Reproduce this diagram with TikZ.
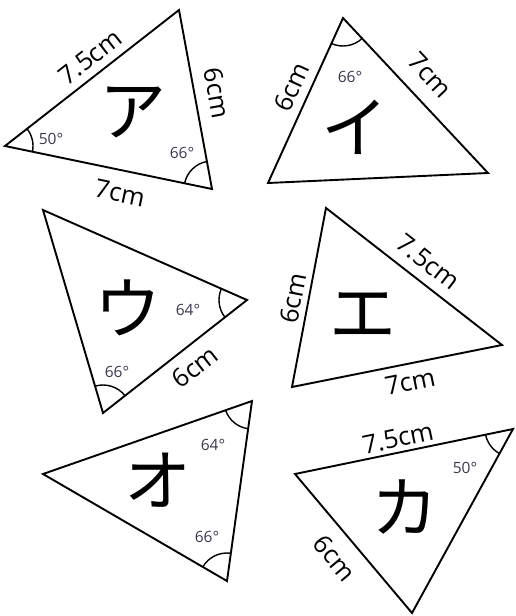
\documentclass[tikz,border=0pt]{standalone}
\usepackage{fontspec}
\setmainfont{Open Sans}
\newfontfamily\jp{Noto Sans CJK JP}
\usetikzlibrary{angles}
\definecolor{angc}{HTML}{3A3550}
\begin{document}
\begin{tikzpicture}[x=1pt,y=1pt,
 tri/.style={draw=black, line width=1.9pt, line join=miter},
 side/.style={font=\fontsize{25.5}{25.5}\selectfont, inner sep=0pt},
 ang/.style={font=\fontsize{15.5}{15.5}\selectfont, text=angc, inner sep=0pt},
 kana/.style={font=\jp\fontsize{67}{67}\selectfont, inner sep=0pt},
 arcang/.style={draw, line width=1.4pt, angle radius=28pt}]
\useasboundingbox (0,0) rectangle (515,-616);
% ア
\coordinate (aL) at (5,-146);
\coordinate (aT) at (179,-10);
\coordinate (aR) at (212,-189);
\draw[tri] (aL) -- (aT) -- (aR) -- cycle;
\pic[arcang] {angle=aR--aL--aT};
\pic[arcang] {angle=aT--aR--aL};
\node[side, rotate=38] (a1) at (90,-57) {7.5cm};
\node[side, rotate=-79.6] (a2) at (217,-93) {6cm};
\node[side, rotate=-11.7] (a3) at (120,-193) {7cm};
\node[ang] (a4) at (51,-139) {50°};
\node[ang] (a5) at (182,-153) {66°};
\node[kana] (a6) at (133,-112) {ア};
% イ
\coordinate (iT) at (343,-18);
\coordinate (iL) at (268,-183);
\coordinate (iR) at (488,-173);
\draw[tri] (iT) -- (iL) -- (iR) -- cycle;
\pic[arcang] {angle=iL--iT--iR};
\node[side, rotate=65.6] (i1) at (292,-87) {6cm};
\node[side, rotate=-46.9] (i2) at (430,-75) {7cm};
\node[ang] (i3) at (350,-77) {66°};
\node[kana] (i4) at (355,-127) {イ};
% ウ
\coordinate (uT) at (43,-210);
\coordinate (uR) at (247,-300);
\coordinate (uB) at (103,-413);
\draw[tri] (uT) -- (uR) -- (uB) -- cycle;
\pic[arcang] {angle=uT--uR--uB};
\pic[arcang] {angle=uR--uB--uT};
\node[side, rotate=38] (u1) at (195,-367) {6cm};
\node[ang] (u2) at (188,-310) {64°};
\node[ang] (u3) at (117,-372) {66°};
\node[kana] (u4) at (128,-308) {ウ};
% エ
\coordinate (eT) at (326,-208);
\coordinate (eR) at (502,-345);
\coordinate (eL) at (292,-387);
\draw[tri] (eT) -- (eR) -- (eL) -- cycle;
\node[side, rotate=-37.9] (e1) at (428,-262) {7.5cm};
\node[side, rotate=79.2] (e2) at (293,-298) {6cm};
\node[side, rotate=11.5] (e3) at (410,-382) {7cm};
\node[kana] (e4) at (363,-315) {エ};
% オ
\coordinate (oL) at (43,-474);
\coordinate (oT) at (252,-401);
\coordinate (oB) at (227,-581);
\draw[tri] (oL) -- (oT) -- (oB) -- cycle;
\pic[arcang] {angle=oL--oT--oB};
\pic[arcang] {angle=oT--oB--oL};
\node[ang] (o1) at (213,-445) {64°};
\node[ang] (o2) at (207,-537) {66°};
\node[kana] (o3) at (158,-480) {オ};
% カ
\coordinate (kL) at (295,-474);
\coordinate (kT) at (513,-429);
\coordinate (kB) at (412,-613);
\draw[tri] (kL) -- (kT) -- (kB) -- cycle;
\pic[arcang] {angle=kL--kT--kB};
\node[side, rotate=11.7] (k1) at (398,-438) {7.5cm};
\node[side, rotate=-50] (k2) at (335,-558) {6cm};
\node[ang] (k3) at (465,-468) {50°};
\node[kana] (k4) at (405,-507) {カ};
\end{tikzpicture}
\end{document}
